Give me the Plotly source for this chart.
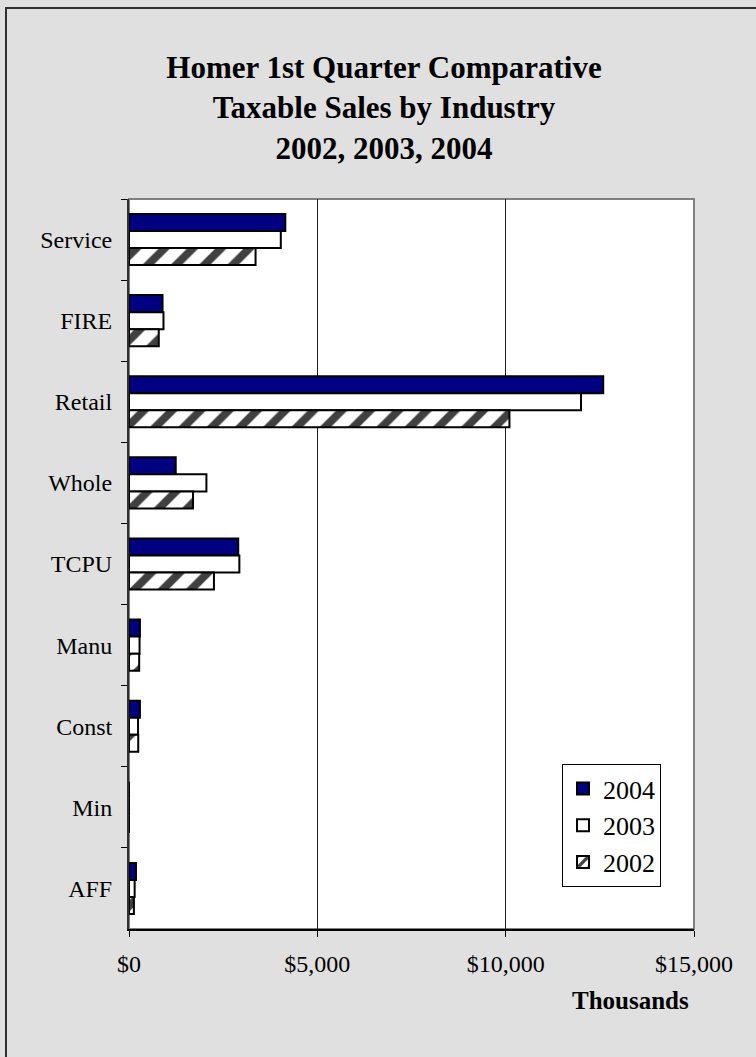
import plotly.graph_objects as go

categories = ["Service", "FIRE", "Retail", "Whole", "TCPU", "Manu", "Const", "Min", "AFF"]
sales_2004 = [4150, 890, 12590, 1240, 2900, 290, 290, 0, 185]
sales_2003 = [4030, 915, 12000, 2055, 2930, 280, 240, 0, 150]
sales_2002 = [3360, 790, 10100, 1700, 2255, 270, 245, 0, 130]
x_ticks = [0, 5000, 10000, 15000]
x_tick_labels = ["$0", "$5,000", "$10,000", "$15,000"]

FONT = "Liberation Serif"

fig = go.Figure()
fig.add_trace(go.Bar(
    y=categories, x=sales_2004, name="2004", orientation="h",
    marker=dict(color="#000080", line=dict(color="black", width=2)),
))
fig.add_trace(go.Bar(
    y=categories, x=sales_2003, name="2003", orientation="h",
    marker=dict(color="white", line=dict(color="black", width=2)),
))
fig.add_trace(go.Bar(
    y=categories, x=sales_2002, name="2002", orientation="h",
    marker=dict(color="white", line=dict(color="black", width=2),
                pattern=dict(shape="/", fgcolor="#404040", bgcolor="white",
                             fgopacity=1, size=20, solidity=0.4)),
))

fig.update_layout(
    width=756, height=1057,
    margin=dict(l=129, r=62, t=199, b=128),
    paper_bgcolor="#e0e0e0",
    plot_bgcolor="white",
    barmode="group",
    bargap=0.37,
    bargroupgap=0,
    font=dict(family=FONT, size=24, color="black"),
    title=dict(
        text="<b>Homer 1st Quarter Comparative<br>Taxable Sales by Industry<br>2002, 2003, 2004</b>",
        font=dict(family=FONT, size=31, color="black"),
        x=384 / 756, xanchor="center",
        yref="container", y=1 - 78 / 1057, yanchor="middle",
    ),
    legend=dict(
        x=(562 - 129) / 565, xanchor="left",
        y=(929 - 764) / 730, yanchor="top",
        bgcolor="white", bordercolor="black", borderwidth=1,
        font=dict(family=FONT, size=26, color="black"),
    ),
    showlegend=True,
)

fig.update_xaxes(
    range=[0, 15000],
    tickvals=x_ticks, ticktext=x_tick_labels,
    showgrid=True, gridcolor="#202020", gridwidth=1,
    zeroline=False,
    showline=True, linecolor="black", linewidth=2,
    ticks="outside", ticklen=6, tickcolor="black",
    tickfont=dict(family=FONT, size=24),
    ticklabelstandoff=6,
)
fig.update_yaxes(
    categoryorder="array", categoryarray=categories,
    autorange="reversed",
    showgrid=False, zeroline=False,
    showline=True, linecolor="#303030", linewidth=2,
    ticks="outside", ticklen=6, tickcolor="black",
    tickson="boundaries",
    tickfont=dict(family=FONT, size=24),
    ticklabelstandoff=10,
)

# plot area border (top/right gray)
fig.add_shape(type="rect", xref="paper", yref="paper", x0=0, y0=0, x1=1, y1=1,
              line=dict(color="#808080", width=2), layer="below")
# outer chart border
fig.add_shape(type="rect", xref="paper", yref="paper",
              x0=(6 - 129) / 565, y0=-2, x1=3, y1=(929 - 8) / 730,
              line=dict(color="#303030", width=2), layer="above")

fig.add_annotation(
    text="<b>Thousands</b>", xref="paper", yref="paper",
    x=(630 - 129) / 565, y=(929 - 1000) / 730,
    xanchor="center", yanchor="middle", showarrow=False,
    font=dict(family=FONT, size=25, color="black"),
)

fig.write_html(
    "out.html",
    config={"displayModeBar": False},
    post_script="document.body.style.margin='0';document.body.style.background='#e0e0e0';",
)
